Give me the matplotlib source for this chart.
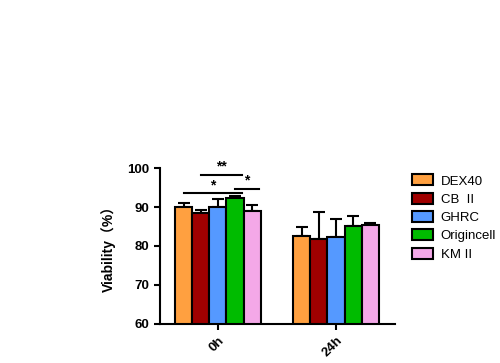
import numpy as np
import matplotlib
matplotlib.use("Agg")
import matplotlib.pyplot as plt

plt.rcParams['font.family'] = ['Liberation Sans', 'Noto Sans CJK SC', 'DejaVu Sans']

# data
groups = ['0h', '24h']
series = ['DEX40', 'CB  II', 'GHRC', 'Origincell', 'KM II']
colors = ['#FFA040', '#A00000', '#5599FF', '#00BB00', '#F4A8E8']
means = np.array([
    [90.1, 88.4, 90.1, 92.4, 89.0],   # 0h
    [82.6, 81.8, 82.3, 85.1, 85.5],   # 24h
])
errs = np.array([
    [1.0, 0.9, 2.0, 0.3, 1.4],
    [2.2, 6.9, 4.6, 2.7, 0.3],
])
# significance brackets in the 0h group: (bar from, bar to, height, label)
sig = [(0, 3, 93.5, '*'), (1, 3, 98.3, '**'), (3, 4, 94.7, '*')]

fig = plt.figure(figsize=(5.0, 3.63), dpi=100)
ax = fig.add_axes([0.32, 0.108, 0.47, 0.429])

w = 0.145
x = np.arange(len(groups))
for i, name in enumerate(series):
    pos = x + (i - 2) * w
    ax.bar(pos, means[:, i], w, bottom=0, color=colors[i], edgecolor='black',
           linewidth=1.5, label=name, zorder=2)
    ax.errorbar(pos, means[:, i], yerr=[np.zeros(len(groups)), errs[:, i]],
                fmt='none', ecolor='black', elinewidth=1.5, capsize=4, capthick=1.5, zorder=1)

for a, b, h, lab in sig:
    xa = x[0] + (a - 2) * w
    xb = x[0] + (b - 2) * w
    ax.plot([xa, xb + w * 0.4], [h, h], color='black', lw=1.5, clip_on=False)
    ax.text((xa + xb + w * 0.4) / 2, h + 0.2, lab, ha='center', va='bottom',
            fontsize=10, fontweight='bold')

ax.set_ylim(60, 100)
ax.set_xlim(-0.49, 1.5)
ax.set_yticks([60, 70, 80, 90, 100])
ax.set_xticks(x)
ax.set_xticklabels(groups, rotation=45, ha='right', rotation_mode='anchor')
for lbl in ax.get_xticklabels() + ax.get_yticklabels():
    lbl.set_fontweight('bold')
    lbl.set_fontsize(9.5)
ax.set_ylabel('Viability（%）', fontsize=10, fontweight='bold', labelpad=8)
for s in ['top', 'right']:
    ax.spines[s].set_visible(False)
for s in ['left', 'bottom']:
    ax.spines[s].set_linewidth(1.5)
ax.tick_params(width=1.5, length=4)

ax.legend(loc='upper left', bbox_to_anchor=(1.02, 1.035), frameon=False, fontsize=9.5,
          handlelength=1.6, handleheight=0.9, labelspacing=0.4, handletextpad=0.6)

fig.savefig('out.png', dpi=100)
